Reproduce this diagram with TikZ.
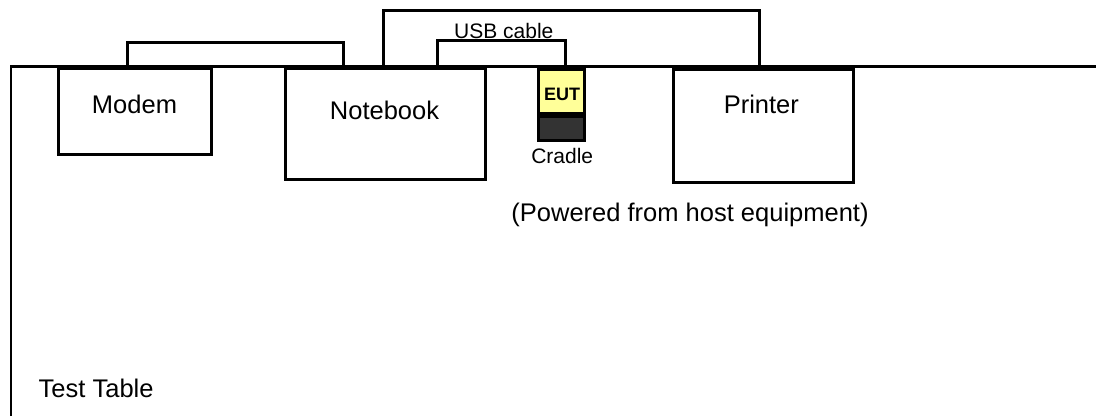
\documentclass[tikz,border=0pt]{standalone}
\usepackage{fontspec}
\setmainfont{Liberation Sans}
\definecolor{eutyellow}{HTML}{FFFF99}
\definecolor{cradlegray}{HTML}{333333}
\begin{document}
\begin{tikzpicture}[x=1pt, y=-1pt,
    unit/.style={draw, line width=3pt, rectangle, inner sep=0pt},
    cable/.style={line width=3pt},
    big/.style={font=\fontsize{25.5}{28}\selectfont, anchor=base, inner sep=0pt},
    small/.style={font=\fontsize{21}{24}\selectfont, anchor=base, inner sep=0pt}]
    \useasboundingbox (0,0) rectangle (1096,416);
    % test table
    \draw[line width=2.7pt] (11,416) -- (11,66.3) -- (1096,66.3);
    \node[big, anchor=base west] (table) at (38.5,397) {Test Table};
    % equipment
    \node[unit, minimum width=153pt, minimum height=86pt] (modem) at (135,111.5) {};
    \node[unit, minimum width=200pt, minimum height=111pt] (notebook) at (385.5,124) {};
    \node[unit, minimum width=180pt, minimum height=113pt] (printer) at (763.5,126) {};
    \node[unit, fill=eutyellow, minimum width=46pt, minimum height=44pt] (eut) at (561.5,91.5) {};
    \node[unit, fill=cradlegray, minimum width=46pt, minimum height=24pt] (cradle) at (561.5,128.5) {};
    \node[big] (modemtext) at (134.5,113.3) {Modem};
    \node[big] (notebooktext) at (384.5,119.3) {Notebook};
    \node[big] (printertext) at (761.3,113.3) {Printer};
    \node[anchor=base, inner sep=0pt, font=\fontsize{18}{20}\selectfont\bfseries] (euttext) at (562,100) {EUT};
    \node[small] (cradletext) at (562.2,163.3) {Cradle};
    \node[big] (powered) at (690,221) {(Powered from host equipment)};
    % cables
    \draw[cable] (modem.north -| 127.7,0) |- (236,42.3) -| (notebook.north -| 343.3,0);
    \draw[cable] (notebook.north -| 383.3,0) |- (570,10.7) -| (printer.north -| 759,0);
    \draw[cable] (notebook.north -| 437.3,0) |- (500,40.7) -| (eut.north -| 565.7,0);
    \node[small] (usb) at (503.8,38.3) {USB cable};
\end{tikzpicture}
\end{document}
